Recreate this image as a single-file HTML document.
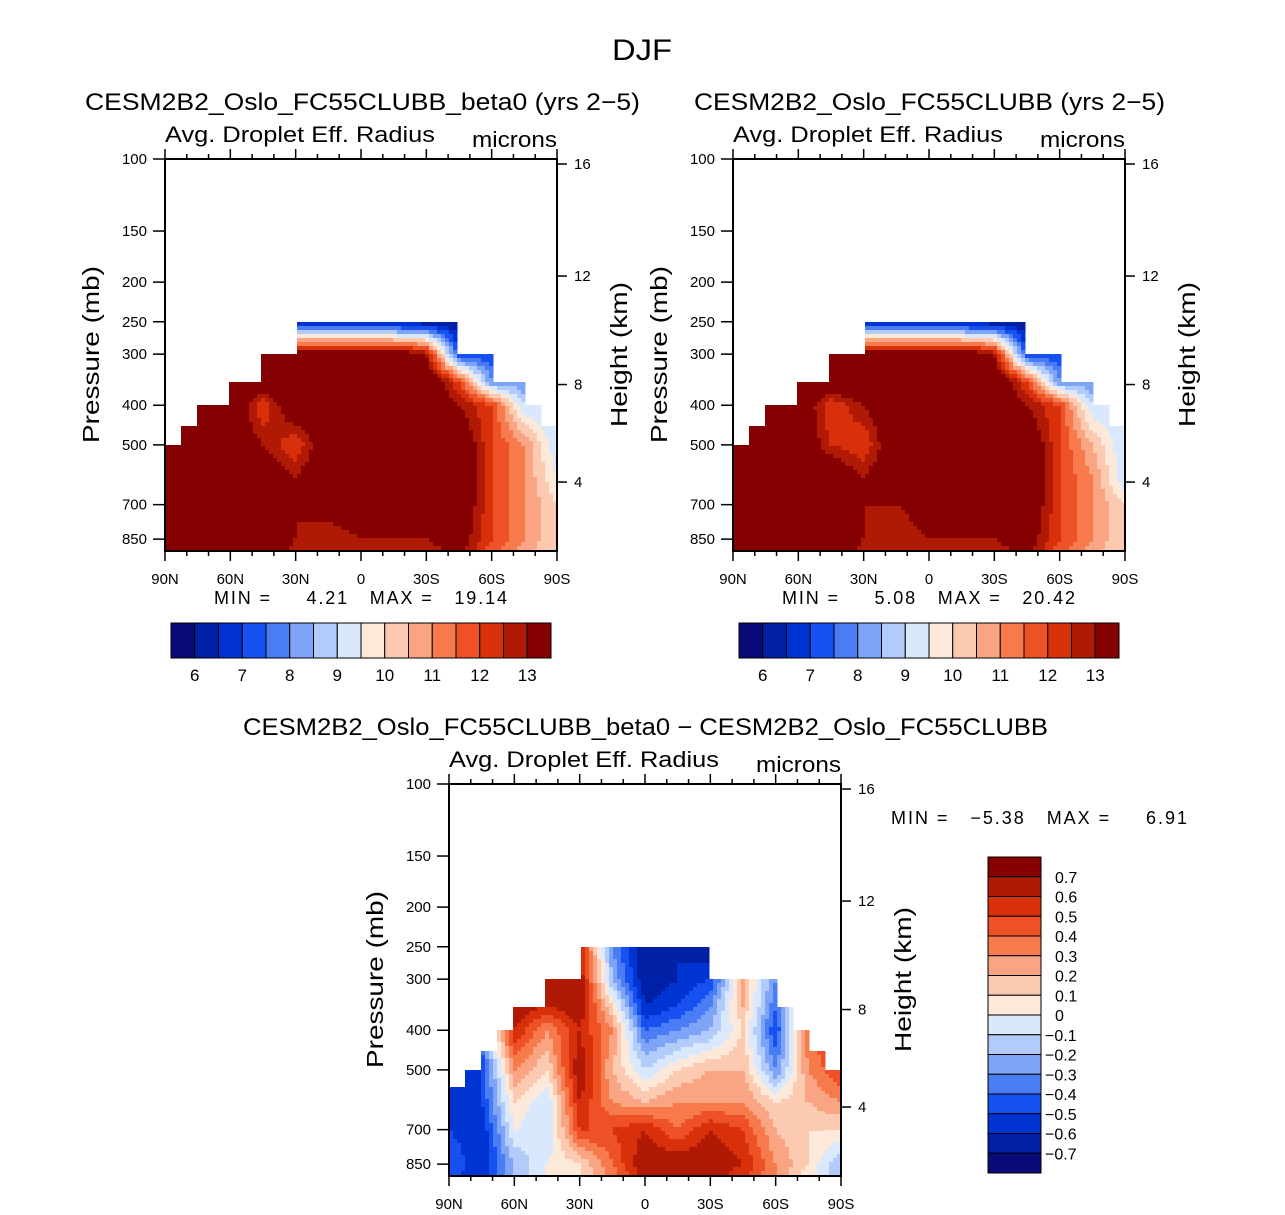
<!DOCTYPE html>
<html><head><meta charset="utf-8">
<style>
html,body{margin:0;padding:0;background:#fff;}
svg{display:block;font-family:"Liberation Sans",sans-serif;}
.pre{white-space:pre;}
</style></head>
<body>
<svg id="root" width="1285" height="1215" viewBox="0 0 1285 1215">
<text x="612" y="60" font-size="30" textLength="60" lengthAdjust="spacingAndGlyphs">DJF</text>
<g id="panels"></g>
</svg>
<script>
// ===== data =====
const lats = [90,75,60,45,30,15,0,-15,-30,-45,-60,-75,-90];
const levels = [250,300,350,400,500,600,700,850,950];
const leftField = [
 [14,14,14,14,6,6,6,6,6,6,9,9,9],
 [14,14,14,14,14,14,14,14,13,7,7,10,10],
 [14,14,14,14,14,14,14,14,14,12,8,8,10],
 [14,14,14,12,14,14,14,14,14,13,12,9,9],
 [14,14,14,13,12,14,14,14,14,14,12,11,9],
 [14,14,14,14,13,14,14,14,14,14,12,11,9.5],
 [14,14,14,14,13,13.5,14,14,13.5,14,12,11,10],
 [14,14,14,14,13,12.5,13,13,13,13.5,12,11,10],
 [14,14,14,14,12.5,12.5,12.5,12.5,12.5,13,11.5,10.5,10]
];
const rightField = [
 [14,14,14,14,6,6,6,6,6,6,9,9,9],
 [14,14,14,14,14,14,14,14,13,7,7,10,10],
 [14,14,14,14,14,14,14,14,14,12,8,8,10],
 [14,14,14,12,13,14,14,14,14,13,12,9,9],
 [14,14,14,12.5,12,14,14,14,14,14,12,10.5,9],
 [14,14,14,14,13,14,14,14,14,14,12,11,9],
 [14,14,14,14,13,13,13.5,14,13.5,14,12,11,10],
 [14,14,14,14,13,12.5,13,13,13,13.5,12,11,10],
 [14,14,14,14,12.5,12.5,12.5,12.5,12.5,13,11.5,10.5,10]
];
const diffField = [
 [0,0,0,0,0.6,-0.3,-0.7,-0.6,-0.7,0.1,-0.5,0,0],
 [0,0,0,0.7,0.7,-0.2,-0.7,-0.6,-0.5,0.2,-0.3,0.1,0],
 [0,0,0.7,0.6,0.7,0.1,-0.6,-0.5,-0.3,0.2,-0.4,0.3,0.6],
 [0,-0.3,0.6,0.3,0.6,0.3,-0.4,-0.3,-0.2,0.1,-0.5,0.4,0.6],
 [-0.5,-0.5,0.3,0.1,0.7,0.2,-0.1,0.1,0.2,0.2,-0.3,0.3,0.5],
 [-0.6,-0.5,0.1,-0.1,0.6,0.3,0.2,0.3,0.3,0.3,0.1,0.2,0.3],
 [-0.5,-0.6,0.0,-0.1,0.5,0.5,0.6,0.4,0.6,0.5,0.2,0.1,0.1],
 [-0.4,-0.6,-0.2,0,0.1,0.4,0.7,0.7,0.7,0.6,0.3,0.1,-0.2],
 [-0.5,-0.6,-0.2,0,0.1,0.3,0.6,0.7,0.6,0.5,0.3,0,-0.2]
];
const topMaskAbs = [500,450,400,400,350,350,300,300,250,250,250,250,250,250,250,250,250,250,300,300,350,350,400,450];
const topMaskDiff = [550,500,450,400,350,350,300,300,250,250,250,250,250,250,250,250,300,300,300,300,350,400,450,500];
const pTicks = [100,150,200,250,300,400,500,700,850];
const hTicks = [16,12,8,4];
const latTicks = ["90N","60N","30N","0","30S","60S","90S"];
const absBarLabels = ["6","7","8","9","10","11","12","13"];
const diffBarLabels = ["0.7","0.6","0.5","0.4","0.3","0.2","0.1","0","−0.1","−0.2","−0.3","−0.4","−0.5","−0.6","−0.7"];
const colors = ["#0a0a78","#0020a6","#0034d2","#1750f0","#4a7cf4","#7ea4f7","#b3cbfa","#d9e8fc","#fde9da","#fcc9b1","#f9a584","#f67a4c","#ee5126","#d9300c","#b01a04","#850000"];

const NS="http://www.w3.org/2000/svg";
const panels=document.getElementById('panels');
function el(tag,attrs,parent,txt){const e=document.createElementNS(NS,tag);for(const k in attrs)e.setAttribute(k,attrs[k]);if(txt!==undefined)e.textContent=txt;(parent||panels).appendChild(e);return e;}

function hToP(km){const z=km*1000;if(z<=11000)return 1013.25*Math.pow(1-2.25577e-5*z,5.2559);return 226.3*Math.exp(-(z-11000)/6341.6);}

function drawPanel(cfg){
  const g=el('g',{});
  
  
  const X0=cfg.x,Y0=cfg.y,W=392,H=392,K=409;
  const yOfP=p=>Y0+K*(Math.log10(p)-2);
  const pOfY=y=>Math.pow(10,2+(y-Y0)/K);
  const xOfLat=l=>X0+(90-l)/180*W;
  const logL=levels.map(p=>Math.log10(p));
  function sample(lat,p){
    let fi=(90-lat)/15; fi=Math.max(0,Math.min(12-1e-9,fi));
    const i=Math.floor(fi),tx=fi-i;
    const lp=Math.log10(p);
    let j=0;
    if(lp<=logL[0]){j=0;} else if(lp>=logL[logL.length-1]){j=logL.length-2;} else {while(logL[j+1]<lp)j++;}
    let ty=(lp-logL[j])/(logL[j+1]-logL[j]); ty=Math.max(0,Math.min(1,ty));
    const f=cfg.field;
    const a=f[j][i]*(1-tx)+f[j][i+1]*tx, b=f[j+1][i]*(1-tx)+f[j+1][i+1]*tx;
    return a*(1-ty)+b*ty;
  }
  const fg=el('g',{},g);
  
  
  const S=4;
  for(let x=X0;x<X0+W;x+=S){
    const col=Math.min(23,Math.floor((x+S/2-X0)/W*24));
    const yTop=yOfP(cfg.mask[col]);
    const lat=90-(x+S/2-X0)/W*180;
    for(let y=Math.round(yTop);y<Y0+H;y+=S){
      const v=sample(lat,pOfY(y+S/2));
      const idx=cfg.idx(v);
      el('rect',{x:x,y:y,width:Math.min(S,X0+W-x)+0.5,height:Math.min(S,Y0+H-y)+0.5,fill:colors[idx]},fg);
    }
  }
  const fr=el('rect',{x:X0,y:Y0,width:W,height:H,fill:'none',stroke:'#000','stroke-width':2},g);
  
  
  pTicks.forEach(p=>{const y=yOfP(p);
    el('line',{x1:X0-12,x2:X0,y1:y,y2:y,stroke:'#000','stroke-width':1.5},g);
    const t=el('text',{x:X0-18,y:y+5,'font-size':15,'text-anchor':'end'},g,String(p));
    
    
  });
  hTicks.forEach(h=>{const y=yOfP(hToP(h));
    el('line',{x1:X0+W,x2:X0+W+10,y1:y,y2:y,stroke:'#000','stroke-width':1.5},g);
    const t=el('text',{x:X0+W+17,y:y+5,'font-size':15},g,String(h));
    
    
  });
  for(let l=90;l>=-90;l-=10){const x=xOfLat(l);const major=(l%30===0);
    el('line',{x1:x,x2:x,y1:Y0,y2:Y0-(major?10:5),stroke:'#000','stroke-width':1.5},g);
    el('line',{x1:x,x2:x,y1:Y0+H,y2:Y0+H+(major?10:5),stroke:'#000','stroke-width':1.5},g);
  }
  latTicks.forEach((s,k)=>{const x=X0+k*W/6;
    const t=el('text',{x:x,y:Y0+H+33,'font-size':15,'text-anchor':'middle'},g,s);
    
    
  });
  const t1=el('text',{x:cfg.tx,y:Y0-49,'font-size':24,textLength:cfg.tw,lengthAdjust:'spacingAndGlyphs'},g,cfg.title);
  
  
  const t2=el('text',{x:X0,y:Y0-17,'font-size':22,textLength:270,lengthAdjust:'spacingAndGlyphs'},g,'Avg. Droplet Eff. Radius');
  
  
  const t3=el('text',{x:X0+W-85,y:Y0-12,'font-size':22,textLength:85,lengthAdjust:'spacingAndGlyphs'},g,'microns');
  
  
  const t4=el('text',{x:-88,y:0,'font-size':23,textLength:177,lengthAdjust:'spacingAndGlyphs',transform:`translate(${X0-66},${Y0+196}) rotate(-90)`},g,'Pressure (mb)');
  
  
  const t5=el('text',{x:-72,y:0,'font-size':23,textLength:145,lengthAdjust:'spacingAndGlyphs',transform:`translate(${X0+W+70},${Y0+196}) rotate(-90)`},g,'Height (km)');
  
  
  const mm=el('text',{x:cfg.mmx,y:cfg.mmy,'font-size':18,'class':'pre',textLength:cfg.mmw,lengthAdjust:'spacing'},g,cfg.minmax);
  
  
}
const absIdx=v=>Math.max(0,Math.min(15,Math.floor((v-5.5)/0.5)));
const diffIdx=v=>Math.max(0,Math.min(15,Math.floor((v+0.7)/0.1+1e-9)+1));

drawPanel({name:'left-panel',x:165,y:159,field:leftField,mask:topMaskAbs,idx:absIdx,title:'CESM2B2_Oslo_FC55CLUBB_beta0 (yrs 2−5)',tx:85,tw:555,minmax:'MIN =     4.21   MAX =   19.14',mmx:214,mmy:604,mmw:293});
drawPanel({name:'right-panel',x:733,y:159,field:rightField,mask:topMaskAbs,idx:absIdx,title:'CESM2B2_Oslo_FC55CLUBB (yrs 2−5)',tx:694,tw:471,minmax:'MIN =     5.08   MAX =   20.42',mmx:782,mmy:604,mmw:293});
drawPanel({name:'difference-panel',x:449,y:784,field:diffField,mask:topMaskDiff,idx:diffIdx,title:'CESM2B2_Oslo_FC55CLUBB_beta0 − CESM2B2_Oslo_FC55CLUBB',tx:243,tw:805,minmax:'MIN =   −5.38   MAX =     6.91',mmx:891,mmy:824,mmw:296});

[171,739].forEach((bx,n)=>{
  const g=el('g',{});
  
  
  const bw=380/16;
  colors.forEach((c,k)=>{el('rect',{x:bx+k*bw,y:623,width:bw,height:35,fill:c,stroke:'#000','stroke-width':1},g);});
  absBarLabels.forEach((s,k)=>{
    const t=el('text',{x:bx+(2*k+1)*bw,y:681,'font-size':17,'text-anchor':'middle'},g,s);
    
    
  });
});
(function(){
  const g=el('g',{});
  
  
  const by=857,bh=316/16;
  colors.slice().reverse().forEach((c,k)=>{el('rect',{x:988,y:by+k*bh,width:53,height:bh,fill:c,stroke:'#000','stroke-width':1},g);});
  diffBarLabels.forEach((s,k)=>{
    const t=el('text',{x:s.startsWith('−')?1045:1055,y:by+(k+1)*bh+6,'font-size':16},g,s);
    
    
  });
})();
</script>
</body></html>
